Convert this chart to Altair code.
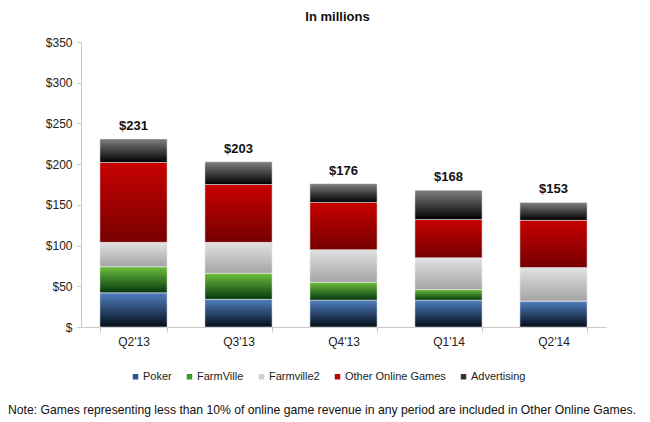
import altair as alt
import pandas as pd

quarters = ["Q2'13", "Q3'13", "Q4'13", "Q1'14", "Q2'14"]
series_names = ["Poker", "FarmVille", "Farmville2", "Other Online Games", "Advertising"]
poker = [42, 34, 33, 33, 32]
farmville = [32, 32, 22, 13, 0]
farmville2 = [30, 38, 40, 39, 41]
other_games = [98, 71, 58, 47, 58]
advertising = [29, 28, 23, 36, 22]
totals = [231, 203, 176, 168, 153]
title_text = "In millions"
note_text = "Note: Games representing less than 10% of online game revenue in any period are included in Other Online Games."

series_values = [poker, farmville, farmville2, other_games, advertising]
legend_colors = ["#2a5694", "#3a9a26", "#d0d0d0", "#c00000", "#333333"]
gradients = [
    ("#4f80c0", "#050d18"),
    ("#6cc03a", "#053610"),
    ("#e2e2e2", "#a4a4a4"),
    ("#c80000", "#760000"),
    ("#808080", "#000000"),
]

rows = []
for i, (name, vals) in enumerate(zip(series_names, series_values)):
    for q, v in zip(quarters, vals):
        rows.append({"quarter": q, "series": name, "value": v, "order": i})
df = pd.DataFrame(rows)
tot_df = pd.DataFrame({"quarter": quarters, "total": totals})
tot_df["label"] = ["$" + str(t) for t in totals]

FONT = "Liberation Sans"

x_enc = alt.X(
    "quarter:N",
    sort=quarters,
    scale=alt.Scale(paddingInner=0.36, paddingOuter=0.18),
    axis=alt.Axis(
        title=None, labelAngle=0, tickBand="extent", labelFontSize=12,
        labelColor="#222222", labelFont=FONT, domainColor="#c8c8c8",
        tickColor="#c8c8c8", tickSize=5, labelPadding=4,
    ),
)
y_scale = alt.Scale(domain=[0, 350])
y_axis = alt.Axis(
    title=None, values=list(range(0, 351, 50)), grid=False,
    labelExpr="datum.value == 0 ? '$' : '$' + datum.value",
    labelFontSize=12, labelColor="#222222", labelFont=FONT,
    domainColor="#c8c8c8", tickColor="#c8c8c8", tickSize=4, labelPadding=5,
)

base = alt.Chart(df).transform_stack(
    stack="value", as_=["y0", "y1"], groupby=["quarter"],
    sort=[alt.SortField("order", order="ascending")],
)

layers = []
for name, (c_top, c_bot) in zip(series_names, gradients):
    grad = alt.LinearGradient(
        gradient="linear",
        stops=[alt.GradientStop(color=c_top, offset=0), alt.GradientStop(color=c_bot, offset=1)],
        x1=0, x2=0, y1=0, y2=1,
    )
    layer = base.transform_filter(alt.datum.series == name).mark_bar(
        color=grad, stroke="#f4f4f4", strokeWidth=0.5
    ).encode(
        x=x_enc,
        y=alt.Y("y1:Q", scale=y_scale, axis=y_axis),
        y2="y0:Q",
    )
    layers.append(layer)

legend_layer = alt.Chart(df).mark_square(opacity=0).encode(
    x=x_enc,
    y=alt.Y("value:Q", scale=y_scale, axis=y_axis),
    color=alt.Color(
        "series:N",
        scale=alt.Scale(domain=series_names, range=legend_colors),
        sort=series_names,
        legend=alt.Legend(
            title=None, orient="none", direction="horizontal",
            legendX=49, legendY=329, symbolType="square", symbolSize=30,
            symbolOpacity=1, symbolStrokeWidth=0, labelFontSize=11,
            labelFont=FONT, labelColor="#222222", columnPadding=12, labelOffset=2,
        ),
    ),
)

labels = alt.Chart(tot_df).mark_text(
    baseline="bottom", dy=-6, fontSize=13, fontWeight="bold", font=FONT, color="#111111"
).encode(
    x=alt.X("quarter:N", sort=quarters),
    y=alt.Y("total:Q", scale=y_scale),
    text="label:N",
)

note = alt.Chart(pd.DataFrame({"note": [note_text]})).mark_text(
    align="left", baseline="middle", fontSize=12.2, font=FONT, color="#111111"
).encode(
    x=alt.value(-73), y=alt.value(368), text="note:N"
)

chart = alt.layer(*layers, legend_layer, labels, note).properties(
    width=525, height=285,
    title=alt.Title(title_text, fontSize=13, fontWeight="bold", font=FONT,
                    color="#111111", offset=12, dx=-6),
    autosize=alt.AutoSizeParams(type="none"),
    padding={"left": 73, "top": 34, "right": 36, "bottom": 100},
).configure_view(stroke=None)

chart.save("out.html", embed_options={"renderer": "svg", "actions": False})
